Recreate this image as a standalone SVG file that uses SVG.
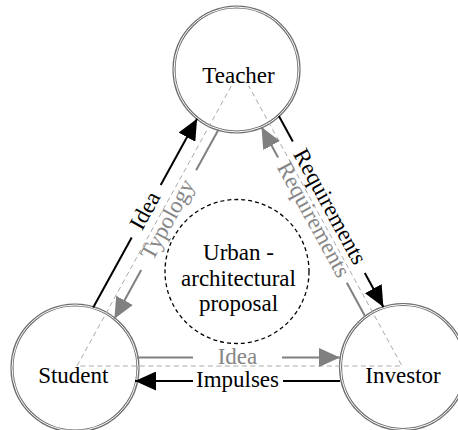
<svg xmlns="http://www.w3.org/2000/svg" width="458" height="430" viewBox="0 0 458 430">
  <defs>
    <style>
      .ring{fill:#fff;stroke:#6f6f6f;stroke-width:3.2}
      .ring-gap{fill:none;stroke:#fff;stroke-width:1}
      .label{font-family:"Liberation Serif","Times New Roman",serif;font-size:23px;text-anchor:middle}
      .guide{fill:none;stroke:#aaa;stroke-width:1;stroke-dasharray:5 3.5}
      .flow-k{fill:none;stroke:#000;stroke-width:2}
      .flow-g{fill:none;stroke:#808080;stroke-width:2}
      .scope{fill:none;stroke:#000;stroke-width:1.3;stroke-dasharray:4 3}
      .txt-k{fill:#000}
      .txt-g{fill:#868686}
    </style>
    <marker id="head-k" markerUnits="userSpaceOnUse" markerWidth="21" markerHeight="19" refX="21" refY="9.5" orient="auto">
      <path d="M0,0 L21,9.5 L0,19 Z" fill="#000"/>
    </marker>
    <marker id="head-g" markerUnits="userSpaceOnUse" markerWidth="21" markerHeight="19" refX="21" refY="9.5" orient="auto">
      <path d="M0,0 L21,9.5 L0,19 Z" fill="#808080"/>
    </marker>
  </defs>

  <rect width="458" height="430" fill="#fff"/>

  <!-- actors -->
  <g id="teacher">
    <circle class="ring" cx="236.5" cy="69.5" r="62.5"/>
    <circle class="ring-gap" cx="236.5" cy="69.5" r="62.5"/>
  </g>
  <g id="student">
    <circle class="ring" cx="75" cy="368" r="63"/>
    <circle class="ring-gap" cx="75" cy="368" r="63"/>
  </g>
  <g id="investor">
    <circle class="ring" cx="403" cy="367" r="62.5"/>
    <circle class="ring-gap" cx="403" cy="367" r="62.5"/>
  </g>
  <g id="proposal">
    <circle class="scope" cx="237" cy="271.5" r="72"/>
  </g>

  <g id="connectors">
    <!-- dashed triangle joining the three actors -->
    <path class="guide" d="M231.2,86 L77,366 L402,366 L248.8,86"/>

    <!-- student -> teacher : Idea -->
    <path class="flow-k" d="M93.2,307.6 L131.7,237.5"/>
    <path class="flow-k" d="M160.7,184.9 L197.1,118.8" marker-end="url(#head-k)"/>
    <!-- teacher -> student : Typology -->
    <path class="flow-g" d="M218,130.4 L196.1,170.2"/>
    <path class="flow-g" d="M141.2,270.1 L114.4,318.7" marker-end="url(#head-g)"/>

    <!-- teacher -> investor : Requirements -->
    <path class="flow-k" d="M278.9,116.1 L292.8,141.4"/>
    <path class="flow-k" d="M364.8,273 L383.4,307" marker-end="url(#head-k)"/>
    <!-- investor -> teacher : Requirements -->
    <path class="flow-g" d="M365.2,316.4 L346.8,282.8"/>
    <path class="flow-g" d="M278.1,157.4 L261.5,127.1" marker-end="url(#head-g)"/>

    <!-- student -> investor : Idea -->
    <path class="flow-g" d="M137,357.5 L193,357.5"/>
    <path class="flow-g" d="M282,357.5 L340,357.5" marker-end="url(#head-g)"/>
    <!-- investor -> student : Impulses -->
    <path class="flow-k" d="M340,381 L283,381"/>
    <path class="flow-k" d="M193,381 L135,381" marker-end="url(#head-k)"/>

    <text class="label txt-k" transform="translate(146.2,211.2) rotate(-61.2)" y="6">Idea</text>
    <text class="label txt-g" transform="translate(168.7,220.1) rotate(-61.2)" y="6">Typology</text>
    <text class="label txt-k" transform="translate(328.8,207.2) rotate(61.3)" y="6">Requirements</text>
    <text class="label txt-g" transform="translate(312.4,220.1) rotate(61.3)" y="6">Requirements</text>
    <text class="label txt-g" x="237.5" y="363.5">Idea</text>
    <text class="label txt-k" x="237.5" y="387">Impulses</text>
  </g>

  <!-- node captions -->
  <g id="captions">
    <text class="label txt-k" x="238.5" y="83">Teacher</text>
    <text class="label txt-k" x="73.3" y="383">Student</text>
    <text class="label txt-k" x="403" y="383">Investor</text>
    <text class="label txt-k" x="238.5" y="260">Urban -</text>
    <text class="label txt-k" x="238.5" y="285.5">architectural</text>
    <text class="label txt-k" x="238.5" y="311">proposal</text>
  </g>
</svg>
